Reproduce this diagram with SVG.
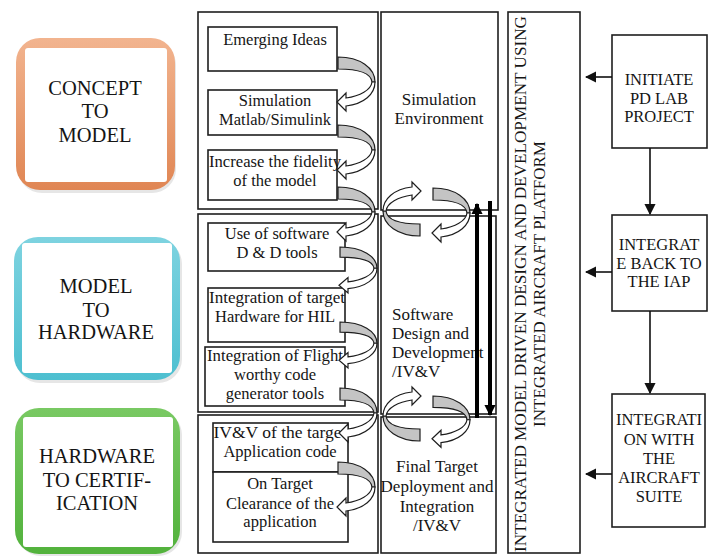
<svg xmlns="http://www.w3.org/2000/svg" width="713" height="556" viewBox="0 0 713 556">
  <style>
    text { font-family: 'Liberation Serif', 'DejaVu Serif', serif; fill: #151515; }
    .s16 { font-size: 16.5px; }
    .s17 { font-size: 17px; }
    .s20 { font-size: 20.5px; }
    .box { fill: #fff; stroke: #1e1e1e; stroke-width: 1.6; }
    .sec { fill: none; stroke: #1e1e1e; stroke-width: 1.6; }
    .band { fill: #c4c4c4; stroke: #1e1e1e; stroke-width: 1.2; vector-effect: non-scaling-stroke; }
    .head { fill: #fff; stroke: #1e1e1e; stroke-width: 1.2; vector-effect: non-scaling-stroke; }
    .flow { fill: none; stroke: #111; stroke-width: 1.6; }
    .thick { fill: none; stroke: #000; stroke-width: 4; }
  </style>
  <defs>
    <marker id="tri" viewBox="0 0 10 10" refX="9" refY="5" markerWidth="7" markerHeight="7" orient="auto" markerUnits="strokeWidth">
      <path d="M0,0 L10,5 L0,10 Z" fill="#111"/>
    </marker>
    <marker id="triBig" viewBox="0 0 10 10" refX="9" refY="5" markerWidth="2.8" markerHeight="2.8" orient="auto" markerUnits="strokeWidth">
      <path d="M0,0 L10,5 L0,10 Z" fill="#000"/>
    </marker>
    <!-- curved hand-off arrow: shaded back band, white front band with head -->
    <g id="hook">
      <path class="band" d="M0,0 C22,0 37,11 37,25 L34,25 C33,17 22,12 0,12 Z"/>
      <path class="head" d="M37,25 C37,37 26,47 8,49 L8,54 L-1,45 L8,36 L8,41 C22,39 33,33 34,25 Z"/>
    </g>
    <linearGradient id="gOrange" x1="0" y1="0" x2="0" y2="1">
      <stop offset="0" stop-color="#f2b48f"/>
      <stop offset="1" stop-color="#e08654"/>
    </linearGradient>
    <linearGradient id="gCyan" x1="0" y1="0" x2="0" y2="1">
      <stop offset="0" stop-color="#7ed3e0"/>
      <stop offset="1" stop-color="#4dbfd0"/>
    </linearGradient>
    <linearGradient id="gGreen" x1="0" y1="0" x2="0" y2="1">
      <stop offset="0" stop-color="#79c963"/>
      <stop offset="1" stop-color="#52b23c"/>
    </linearGradient>
  </defs>

  <rect width="713" height="556" fill="#fff"/>

  <g font-family="'Liberation Serif', 'DejaVu Serif', serif">
  <!-- phase blocks -->
  <g id="concept-to-model">
    <rect x="18" y="41" width="158" height="152" rx="24" fill="#e6e6e6"/>
    <rect x="16" y="38" width="159" height="152" rx="24" fill="url(#gOrange)"/>
    <rect x="25" y="48" width="142" height="134" rx="3" fill="#fff"/>
    <text class="s20" text-anchor="middle" x="95" y="95">CONCEPT</text>
    <text class="s20" text-anchor="middle" x="95" y="118">TO</text>
    <text class="s20" text-anchor="middle" x="95" y="142">MODEL</text>
  </g>
  <g id="model-to-hardware">
    <rect x="16" y="240" width="166" height="143" rx="24" fill="#e6e6e6"/>
    <rect x="14" y="237" width="166" height="143" rx="24" fill="url(#gCyan)"/>
    <rect x="22" y="243" width="150" height="130" rx="3" fill="#fff"/>
    <text class="s20" text-anchor="middle" x="96" y="293">MODEL</text>
    <text class="s20" text-anchor="middle" x="96" y="317">TO</text>
    <text class="s20" text-anchor="middle" x="96" y="339">HARDWARE</text>
  </g>
  <g id="hardware-to-certification">
    <rect x="17" y="411" width="165" height="145" rx="24" fill="#e6e6e6"/>
    <rect x="15" y="408" width="165" height="146" rx="24" fill="url(#gGreen)"/>
    <rect x="23" y="417" width="150" height="130" rx="3" fill="#fff"/>
    <text class="s20" text-anchor="middle" x="97" y="463">HARDWARE</text>
    <text class="s20" text-anchor="middle" x="97" y="487">TO CERTIF-</text>
    <text class="s20" text-anchor="middle" x="97" y="510">ICATION</text>
  </g>

  <!-- activity column sections -->
  <g id="activity-column">
    <rect class="sec" x="198" y="12" width="180" height="197"/>
    <rect class="sec" x="198" y="214" width="180" height="198"/>
    <rect class="sec" x="198" y="415" width="180" height="138"/>
  </g>

  <!-- environment column sections -->
  <g id="environment-column">
    <rect class="sec" x="381" y="12" width="117" height="198"/>
    <rect class="sec" x="381" y="216" width="115" height="198"/>
    <rect class="sec" x="381" y="417" width="115" height="136"/>
    <text class="s17" text-anchor="middle" x="439" y="105">Simulation</text>
    <text class="s17" text-anchor="middle" x="439" y="124">Environment</text>
    <text class="s17" x="392" y="320">Software</text>
    <text class="s17" x="392" y="339">Design and</text>
    <text class="s17" x="392" y="358">Development</text>
    <text class="s17" x="392" y="377">/IV&amp;V</text>
    <text class="s17" text-anchor="middle" x="437" y="472">Final Target</text>
    <text class="s17" text-anchor="middle" x="437" y="492">Deployment and</text>
    <text class="s17" text-anchor="middle" x="437" y="512">Integration</text>
    <text class="s17" text-anchor="middle" x="437" y="531">/IV&amp;V</text>
  </g>

  <!-- activities -->
  <g id="emerging-ideas">
    <rect class="box" x="208" y="27" width="129" height="44"/>
    <text class="s16" text-anchor="middle" x="275" y="45">Emerging Ideas</text>
  </g>
  <g id="simulation-matlab">
    <rect class="box" x="208" y="90" width="129" height="45"/>
    <text class="s16" text-anchor="middle" x="275" y="106">Simulation</text>
    <text class="s16" text-anchor="middle" x="275" y="125">Matlab/Simulink</text>
  </g>
  <g id="increase-fidelity">
    <rect class="box" x="208" y="150" width="129" height="50"/>
    <text class="s16" text-anchor="middle" x="275" y="167" textLength="132" lengthAdjust="spacingAndGlyphs">Increase the fidelity</text>
    <text class="s16" text-anchor="middle" x="275" y="186">of the model</text>
  </g>
  <g id="software-dd-tools">
    <rect class="box" x="208" y="223" width="137" height="48"/>
    <text class="s16" text-anchor="middle" x="277" y="239">Use of software</text>
    <text class="s16" text-anchor="middle" x="277" y="258">D &amp; D tools</text>
  </g>
  <g id="target-hardware-hil">
    <rect class="box" x="208" y="288" width="137" height="54"/>
    <text class="s16" text-anchor="middle" x="277" y="303" textLength="136" lengthAdjust="spacingAndGlyphs">Integration of target</text>
    <text class="s16" text-anchor="middle" x="275" y="322">Hardware for HIL</text>
  </g>
  <g id="flight-worthy-code">
    <rect class="box" x="205" y="347" width="140" height="59"/>
    <text class="s16" text-anchor="middle" x="275" y="361" textLength="136" lengthAdjust="spacingAndGlyphs">Integration of Flight</text>
    <text class="s16" text-anchor="middle" x="275" y="380">worthy code</text>
    <text class="s16" text-anchor="middle" x="275" y="399">generator tools</text>
  </g>
  <g id="ivv-target-code">
    <rect class="box" x="213" y="423" width="135" height="49"/>
    <text class="s16" text-anchor="middle" x="280" y="438" textLength="133" lengthAdjust="spacingAndGlyphs">IV&amp;V of the target</text>
    <text class="s16" text-anchor="middle" x="280" y="457">Application code</text>
  </g>
  <g id="on-target-clearance">
    <rect class="box" x="213" y="472" width="135" height="70"/>
    <text class="s16" text-anchor="middle" x="280" y="489">On Target</text>
    <text class="s16" text-anchor="middle" x="280" y="509">Clearance of the</text>
    <text class="s16" text-anchor="middle" x="280" y="527">application</text>
  </g>

  <!-- platform banner -->
  <g id="platform-banner">
    <rect class="sec" x="508" y="12" width="72" height="541"/>
    <text class="s17" text-anchor="middle" transform="translate(526,284) rotate(-90)" textLength="536" lengthAdjust="spacingAndGlyphs">INTEGRATED MODEL DRIVEN DESIGN AND DEVELOPMENT USING</text>
    <text class="s17" text-anchor="middle" transform="translate(545,284) rotate(-90)">INTEGRATED AIRCRAFT PLATFORM</text>
  </g>

  <!-- lab steps -->
  <g id="initiate-pd-lab">
    <rect class="box" x="612" y="35" width="95" height="113"/>
    <text class="s16" text-anchor="middle" x="659" y="85">INITIATE</text>
    <text class="s16" text-anchor="middle" x="659" y="104">PD LAB</text>
    <text class="s16" text-anchor="middle" x="659" y="122">PROJECT</text>
  </g>
  <g id="integrate-back">
    <rect class="box" x="612" y="215" width="95" height="96"/>
    <text class="s16" text-anchor="middle" x="659" y="250">INTEGRAT</text>
    <text class="s16" text-anchor="middle" x="659" y="269">E BACK TO</text>
    <text class="s16" text-anchor="middle" x="659" y="287">THE IAP</text>
  </g>
  <g id="integration-aircraft">
    <rect class="box" x="612" y="394" width="93" height="133"/>
    <text class="s16" text-anchor="middle" x="659" y="425">INTEGRATI</text>
    <text class="s16" text-anchor="middle" x="659" y="445">ON WITH</text>
    <text class="s16" text-anchor="middle" x="659" y="464">THE</text>
    <text class="s16" text-anchor="middle" x="659" y="483">AIRCRAFT</text>
    <text class="s16" text-anchor="middle" x="659" y="502">SUITE</text>
  </g>
  </g>

  <!-- connectors -->
  <g id="connectors">
    <line class="flow" x1="612" y1="77" x2="586" y2="77" marker-end="url(#tri)"/>
    <line class="flow" x1="612" y1="272" x2="586" y2="272" marker-end="url(#tri)"/>
    <line class="flow" x1="612" y1="474" x2="586" y2="474" marker-end="url(#tri)"/>
    <line class="flow" x1="650" y1="148" x2="650" y2="214" marker-end="url(#tri)"/>
    <line class="flow" x1="650" y1="311" x2="650" y2="393" marker-end="url(#tri)"/>

    <line class="thick" x1="477" y1="418" x2="477" y2="204" marker-end="url(#triBig)"/>
    <line class="thick" x1="490" y1="201" x2="490" y2="415" marker-end="url(#triBig)"/>

    <use href="#hook" transform="translate(338,57)"/>
    <use href="#hook" transform="translate(338,125)"/>
    <use href="#hook" transform="translate(338,187)"/>
    <use href="#hook" transform="translate(340,247) scale(1,0.85)"/>
    <use href="#hook" transform="translate(340,322) scale(1,0.85)"/>
    <use href="#hook" transform="translate(340,388)"/>
    <use href="#hook" transform="translate(338,462)"/>

    <use href="#hook" transform="translate(433,188)"/>
    <use href="#hook" transform="translate(420,236) rotate(180)"/>
    <use href="#hook" transform="translate(433,396) scale(1,0.95)"/>
    <use href="#hook" transform="translate(420,441) rotate(180)"/>
  </g>
</svg>
